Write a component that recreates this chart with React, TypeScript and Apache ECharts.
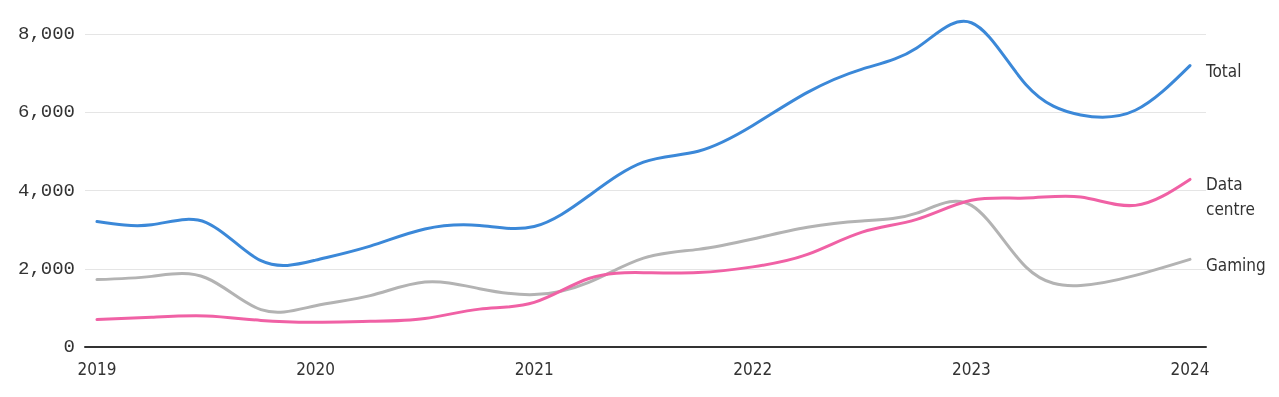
import React, { useEffect, useRef } from "react";
import * as echarts from "echarts";

// Quarterly revenue, $m (index 0 = start of 2019 on the axis, step = one quarter)
const quarters: number[] = [0, 1, 2, 3, 4, 5, 6, 7, 8, 9, 10, 11, 12, 13, 14, 15, 16, 17, 18, 19, 20];
const total: number[] = [3207, 3123, 3181, 2205, 2220, 2579, 3014, 3105, 3080, 3866, 4726, 5003, 5661, 6507, 7103, 7643, 8288, 6704, 5931, 6051, 7192];
const dataCentre: number[] = [701, 760, 792, 679, 634, 655, 726, 968, 1141, 1752, 1900, 1903, 2048, 2366, 2936, 3263, 3750, 3806, 3833, 3620, 4284];
const gaming: number[] = [1723, 1805, 1764, 954, 1055, 1313, 1659, 1491, 1339, 1654, 2271, 2495, 2760, 3059, 3221, 3420, 3620, 2042, 1574, 1831, 2240];
const yearTicks: number[] = [0, 4, 8, 12, 16, 20];
const yearLabels: string[] = ["2019", "2020", "2021", "2022", "2023", "2024"];

const pair = (vals: number[]) => quarters.map((q, i) => [q, vals[i]]);

// natural cubic spline control points (same as d3.curveNatural)
function controlPoints(x: number[]): [number[], number[]] {
  const n = x.length - 1;
  const a = new Array(n), b = new Array(n), r = new Array(n);
  a[0] = 0; b[0] = 2; r[0] = x[0] + 2 * x[1];
  for (let i = 1; i < n - 1; ++i) { a[i] = 1; b[i] = 4; r[i] = 4 * x[i] + 2 * x[i + 1]; }
  a[n - 1] = 2; b[n - 1] = 7; r[n - 1] = 8 * x[n - 1] + x[n];
  for (let i = 1; i < n; ++i) { const m = a[i] / b[i - 1]; b[i] -= m; r[i] -= m * r[i - 1]; }
  a[n - 1] = r[n - 1] / b[n - 1];
  for (let i = n - 2; i >= 0; --i) a[i] = (r[i] - a[i + 1]) / b[i];
  b[n - 1] = (x[n] + a[n - 1]) / 2;
  for (let i = 0; i < n - 1; ++i) b[i] = 2 * x[i + 1] - a[i + 1];
  return [a, b];
}

function naturalPath(pts: number[][]): string {
  const xs = pts.map((p) => p[0]);
  const ys = pts.map((p) => p[1]);
  const px = controlPoints(xs);
  const py = controlPoints(ys);
  let d = `M${xs[0]},${ys[0]}`;
  for (let i = 0; i < xs.length - 1; i++) {
    d += `C${px[0][i]},${py[0][i]},${px[1][i]},${py[1][i]},${xs[i + 1]},${ys[i + 1]}`;
  }
  return d;
}

const LABEL_FONT = "'DejaVu Sans Condensed', 'Liberation Sans Narrow', sans-serif";

export default function App() {
  const ref = useRef<HTMLDivElement>(null);
  useEffect(() => {
    if (!ref.current) return;
    const chart = echarts.init(ref.current, undefined, { renderer: "svg" });
    const mkSeries = (name: string, vals: number[], color: string, offsetY: number, text: string) => ({
      name,
      type: "custom",
      data: pair(vals),
      clip: false,
      encode: { x: 0, y: 1 },
      renderItem: (params: any, api: any) => {
        if (params.dataIndex !== 0) return null;
        const pts = vals.map((v, i) => api.coord([quarters[i], v]));
        const last = pts[pts.length - 1];
        return {
          type: "group",
          children: [
            {
              type: "path",
              shape: { pathData: naturalPath(pts) },
              style: { fill: "none", stroke: color, lineWidth: 3, lineJoin: "round", lineCap: "round" },
            },
            {
              type: "text",
              x: last[0] + 16,
              y: last[1] + offsetY,
              style: {
                text,
                fill: "#333",
                fontSize: 17,
                fontFamily: LABEL_FONT,
                align: "left",
                verticalAlign: "middle",
                lineHeight: 25,
              },
            },
          ],
        };
      },
    });
    chart.setOption({
      animation: false,
      grid: { left: 85, right: 73, top: 34, bottom: 50 },
      xAxis: {
        type: "value",
        min: -0.2196,
        max: 20.293,
        axisLine: { show: true, lineStyle: { color: "#333", width: 2 }, onZero: false },
        axisTick: { show: false },
        splitLine: { show: false },
        axisLabel: {
          customValues: yearTicks,
          formatter: (v: number) => yearLabels[Math.round(v / 4)] ?? "",
          color: "#333",
          fontSize: 17,
          fontFamily: LABEL_FONT,
          margin: 13,
        },
      },
      yAxis: {
        type: "value",
        min: 0,
        max: 8000,
        interval: 2000,
        axisLine: { show: false },
        axisTick: { show: false },
        splitLine: { show: true, lineStyle: { color: "#e5e5e5", width: 1 } },
        axisLabel: {
          formatter: (v: number) => v.toLocaleString("en-US"),
          color: "#333",
          fontSize: 19,
          fontFamily: "'Liberation Mono', 'DejaVu Sans Mono', monospace",
          margin: 10,
        },
      },
      series: [
        mkSeries("Gaming", gaming, "#b3b3b3", 6, "Gaming"),
        mkSeries("Data centre", dataCentre, "#f061a5", 17.5, "Data\ncentre"),
        mkSeries("Total", total, "#3b88d8", 5.5, "Total"),
      ],
    });
    return () => chart.dispose();
  }, []);
  return <div ref={ref} style={{ position: "fixed", left: 0, top: 0, width: 1279, height: 397 }} />;
}
